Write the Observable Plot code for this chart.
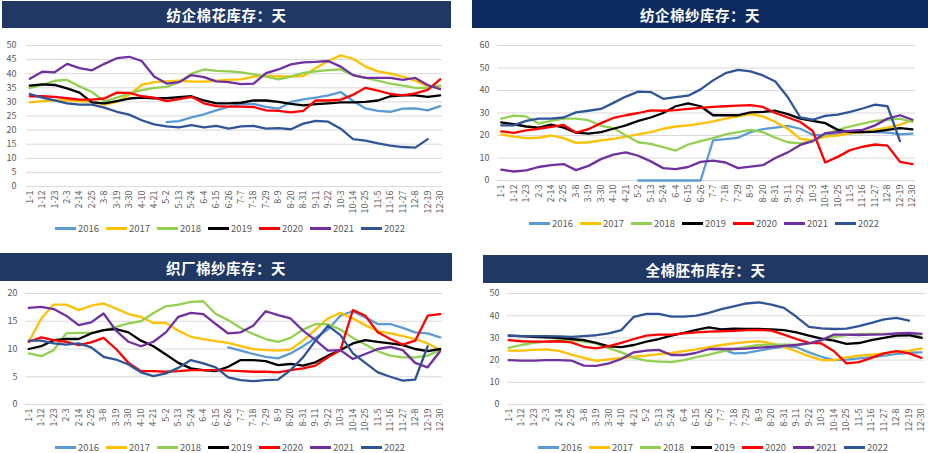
<!DOCTYPE html>
<html><head><meta charset="utf-8">
<script src="https://cdn.jsdelivr.net/npm/d3@7"></script>
<script src="https://cdn.jsdelivr.net/npm/@observablehq/plot@0.6"></script>
<style>
body{margin:0;width:928px;height:453px;position:relative;background:#fff;overflow:hidden;font-family:"Noto Sans CJK SC","Noto Sans",sans-serif}
.bar{position:absolute;background:#1f3864;color:#fff;font-weight:bold;font-size:14.5px;display:flex;align-items:center;justify-content:center;letter-spacing:0.5px}
.chart{position:absolute}
.legend{position:absolute;display:flex;align-items:center;font-size:9.5px;color:#595959;height:12px}
.legend .it{display:flex;align-items:center;width:51px}
.legend .sw{display:inline-block;width:21px;height:3px;margin-right:2px}
</style>
</head><body>
<div id="root"></div>
<script>
const n = null;
const tickLabels = ["1-1","1-12","1-23","2-3","2-14","2-25","3-8","3-19","3-30","4-10","4-21","5-2","5-13","5-24","6-4","6-15","6-26","7-7","7-18","7-29","8-9","8-20","8-31","9-11","9-22","10-3","10-14","10-25","11-5","11-16","11-27","12-8","12-19","12-30"];
const years = ["2016","2017","2018","2019","2020","2021","2022"];

// 纺企棉花库存
const cotton2016 = [n,n,n,n,n,n,n,n,n,n,n,22.8,23.2,24.5,25.6,27,28.3,29.2,29.3,28.2,27.6,30,30.9,31.5,32.3,33.5,30.3,27.7,26.8,26.5,27.6,27.7,27,28.5];
const cotton2017 = [29.8,30.3,30.5,30.5,30.3,30,29,30,32.5,36,37,37.3,37.5,37.2,37.2,37.5,37.8,38,39,39.3,39,39,39.2,42,44.5,46.5,45.3,42.5,40.8,40,39,37.5,35.5,35.5];
const cotton2018 = [35,36,37.5,37.8,35.5,33.5,30.2,31.5,33,34.2,35,35.3,37,40,41.5,41,40.8,40.5,39.8,39,38,39,40.3,40.8,41.3,41.5,39.5,38.5,37.5,36.5,35.8,35,35,35.8];
const cotton2019 = [35.8,36.2,36,34.8,33.3,29.8,29.5,30.3,31.2,31.5,31.3,31.3,31.7,32,30.5,29.5,29.5,29.7,30.5,30.5,30,29.3,28.8,29.2,29.5,29.8,29.8,30,30.5,32,32.3,32.3,31.8,32.3];
const cotton2020 = [32,32,31.8,31.3,30.8,30.8,31.2,33.3,33.2,32,31.5,30.3,31,31.8,29.5,28.5,28.3,28.3,28.2,27,26.8,26.3,26.8,30.5,30.5,30.8,32.5,35,34,32.8,32.3,33,34.3,38];
const cotton2021 = [38.2,40.7,40.5,43.5,42,41.2,43.5,45.5,46,44.5,39,36.5,37,39.5,38.8,37.3,37,36.3,36.5,40.2,41.5,43.3,44,44.2,44.5,42.5,39.5,38.5,38.5,38.5,37.8,38.5,36,34.5];
const cotton2022 = [32.8,31.5,30.5,29.5,29,29,28,26.5,25.5,23.5,22,21.3,21,21.8,21,21.5,20.5,21.3,21.5,20.5,20.7,20.3,22.3,23.3,23,20.5,16.8,16.3,15.3,14.5,14,13.8,16.8,n];

// 纺企棉纱库存
const yarn2016 = [n,n,n,n,n,n,n,n,n,n,n,0,0,0,0,0,0,17.8,18.4,19,21.5,22.8,23.5,24.3,23,20.3,20,20.5,21,21.5,21.5,21.3,20.5,20.8];
const yarn2017 = [20.5,19.5,18.8,19,20,18.8,16.7,17,17.8,18.5,19.5,20.5,21.5,23,24,24.5,25.3,26.3,27.5,28.5,29.5,28.5,26,23,18.5,17.8,19.5,20,21,21.5,22.5,23.5,24.7,27];
const yarn2018 = [27.5,28.8,28.5,25.3,26.5,27.5,27.5,26.8,24.3,23.3,20,17,16.3,14.8,13.3,16,17.5,18.8,20.5,21.5,22.5,21.5,19,17,16.5,17.5,20.5,22.5,24,25.3,26.5,27,27.5,26];
const yarn2019 = [25.8,25,24,23.5,24.8,23.5,21.3,20.8,21.5,23,24.5,26.5,28,30,33,34.3,33,29,29,29,30.3,30.5,31,29.5,27.5,26.5,25.5,22.5,21.5,21.5,21.7,22.5,23.3,22.7];
const yarn2020 = [21.8,21.2,22.3,23,23.8,24.7,21.3,22.8,25.5,27.8,29,30,31.2,31,31.3,31.8,32.3,32.7,33,33.3,33.5,32.7,30,28,26,22,8,10.5,13.5,15,16,15.5,8.3,7.3];
const yarn2021 = [4.8,4,4.5,6,6.8,7.3,4.6,6.5,9.5,11.5,12.5,11,8.5,5.5,5.1,6,8.3,8.8,8,5.5,6.2,6.8,10,12.5,15.8,17.5,21,21.5,22,22.5,24.5,27.5,29,27];
const yarn2022 = [24.5,24.5,26.5,27.5,27.5,28,30.3,31,31.8,34.5,37.3,39.5,39.3,36.3,37.1,37.7,40.5,44.5,47.7,49.2,48.5,46.7,44,37,28,27,28.7,29.3,30.5,32,33.7,33,17.5,n];

// 织厂棉纱库存
const weave2016 = [n,n,n,n,n,n,n,n,n,n,n,n,n,n,n,n,10.3,9.7,9.1,8.6,8.3,9.2,10.5,12,13.5,16,16.8,15.7,14.5,14.5,13.8,13,12.8,12.1];
const weave2017 = [11.3,15.5,18,18,17,17.8,18.2,17.3,16.3,15.8,14.7,14.7,13.3,12.2,11.8,11.4,11.1,10.5,10,9.8,9.7,9.9,11.5,13.5,15.5,16.5,15.5,14.3,13.2,12.8,12.3,11.8,11,9.8];
const weave2018 = [9.2,8.7,9.8,12.8,12.9,12.9,13.3,14,14.6,15,16.5,17.7,18,18.5,18.6,16.3,15.2,13.8,12.7,11.8,11.3,12,13.5,14.5,14.5,13.5,12,10.8,9.6,8.8,8.5,8.5,8.8,9.8];
const weave2019 = [10,10.5,11.6,11.8,11.8,12.8,13.4,13.6,13,11.5,10.5,9,7.5,6.5,6.2,6,6.8,8,8,7.8,7.1,7.3,7,7.6,8.8,9.8,11,11.6,11.3,11,10.7,10,9.6,10];
const weave2020 = [11.3,12.1,11.6,11.3,10.7,11.2,12,10,7.5,6,6,5.9,6,6.2,6.2,6.2,6.1,6,5.9,5.9,5.8,6.2,6.5,7,8.5,9.8,17,16,13,11.8,10.8,11.5,16,16.3];
const weave2021 = [17.4,17.6,17.2,16,14.3,14.8,16.4,13.3,11.3,10.5,11.3,13,15.8,16.5,16.3,14.5,12.8,13,14.2,16.8,16.1,15.5,13.3,11.6,9.7,9.8,8.2,9.1,10,10.4,9.8,7.5,6.7,9.6];
const weave2022 = [11.5,11.5,11,10.8,11,10.3,8.6,8.1,7.2,5.8,5.1,5.6,6.6,8,7.4,6.7,4.9,4.4,4.2,4.4,4.5,6.2,8.5,11.5,14.2,12.5,9.2,7.5,5.8,5,4.3,4.5,10.5,n];

// 全棉胚布库存
const fabric2016 = [n,n,n,n,n,n,n,n,n,n,n,n,n,n,n,n,25,25,23,23.2,24.3,25.3,26,25.8,23.5,21.5,20,20.2,20.8,21.3,22,22.8,23.3,23.5];
const fabric2017 = [24.3,24.3,24.6,24.8,24.2,22.5,21,19.7,20.3,21,21.5,22,22.7,23.2,24,24.8,25.8,26.8,27.5,28.1,28.5,27.5,25.9,24,21.8,20,20,21.2,22,22.4,23,23.7,24.3,25.2];
const fabric2018 = [25.5,26.8,27.8,28.3,29,29,28.3,27.5,25.4,23.5,21,19.8,19.3,19.1,20,21.3,22.5,23.8,25,26,26.8,27,27,27,27.5,29,30.5,31.3,31.7,31.8,31.8,31.7,31.8,30.5];
const fabric2019 = [31,30.8,30.5,30.3,30,29.5,29,27.8,26.2,25.8,26.8,28.3,29.5,31,32.3,33.6,34.7,33.8,34.2,34,34,33.8,33.5,32.5,31,29.7,28.8,27.3,27.7,29,30,31,31.2,30];
const fabric2020 = [29,28.5,28.3,28.3,28.5,28,26,25.3,26.3,27.8,29.5,31,31.5,31.5,32,32.5,32.8,33,33.2,33.5,33.6,33.3,31.5,29.5,27.8,27.5,24,18.5,19.1,21,23,24,23,21];
const fabric2021 = [20,19.8,19.8,20,20,19.8,17.5,17.4,18.5,20.5,23.5,24.3,24.6,22.3,22.3,23.3,25,25,25,25.2,25.6,26,26.4,26.8,27.5,29,31.5,31.5,31.3,31.5,31.6,32,32.2,31.8];
const fabric2022 = [31,30.8,30.8,30.8,30.7,30.5,30.8,31.2,32,33.5,39.5,40.8,40.8,39.6,39.6,40,41.3,43,44.2,45.5,46,45,43.5,39.5,35,34.3,34,34.2,35.3,36.8,38.3,39,37.8,n];

const palette = ["#5b9bd5","#ffc000","#92d050","#000000","#ff0000","#7030a0","#2f5597"];
const tickDays = tickLabels.map((_, i) => i * 11);

function rowsOf(seriesList) {
  const rows = [];
  seriesList.forEach((vals, k) => {
    vals.forEach((v, i) => { if (v !== null) rows.push({day: tickDays[i], value: v, year: years[k]}); });
  });
  return rows;
}

function addBox(cls, css, html) {
  const d = document.createElement("div");
  d.className = cls;
  Object.assign(d.style, css);
  if (html) d.innerHTML = html;
  document.body.appendChild(d);
  return d;
}

function legend(left, top) {
  const html = years.map((y, k) => `<div class="it"><span class="sw" style="background:${palette[k]}"></span>${y}</div>`).join("");
  addBox("legend", {left: left + "px", top: top + "px"}, html);
}

function panel(cfg) {
  addBox("bar", {left: cfg.bar[0] + "px", top: cfg.bar[1] + "px", width: cfg.bar[2] + "px", height: cfg.bar[3] + "px", background: cfg.barColor || "#1f3864"}, cfg.title);
  const chart = Plot.plot({
    width: cfg.w, height: cfg.h,
    marginLeft: cfg.ml, marginRight: cfg.mr, marginTop: cfg.mt, marginBottom: cfg.mb,
    style: {fontFamily: '"Noto Sans CJK SC","Noto Sans",sans-serif', fontSize: "9px", color: "#595959", background: "transparent", overflow: "visible"},
    x: {domain: cfg.xd, ticks: tickDays, tickFormat: d => tickLabels[Math.round(d / 11)], tickRotate: -90, tickSize: 0, tickPadding: 4, label: null},
    y: {domain: [0, cfg.ymax], ticks: cfg.yticks, tickSize: 0, tickPadding: cfg.yp, label: null},
    color: {domain: years, range: palette},
    marks: [
      Plot.gridY(cfg.yticks, {stroke: "#d9d9d9", strokeOpacity: 1, strokeWidth: 1}),
      Plot.line(rowsOf(cfg.series), {x: "day", y: "value", z: "year", stroke: "year", strokeWidth: 2.3, strokeLinejoin: "round"})
    ]
  });
  const holder = addBox("chart", {left: cfg.left + "px", top: cfg.top + "px"});
  holder.appendChild(chart);
  legend(cfg.lx, cfg.ly);
}

panel({title: "纺企棉花库存：天", bar: [2, 1, 449, 27], left: 0, top: 30, w: 452, h: 192, ml: 26, mr: 10, mt: 15, mb: 36, xd: [-2.9, 365.1], ymax: 50, yticks: d3.range(0, 51, 5), yp: 10, lx: 55, ly: 222,
  series: [cotton2016, cotton2017, cotton2018, cotton2019, cotton2020, cotton2021, cotton2022]});
panel({title: "纺企棉纱库存：天", bar: [472, 0, 456, 28], barColor: "#0d2b5e", left: 464, top: 30, w: 464, h: 185, ml: 33, mr: 13, mt: 15, mb: 35, xd: [-3.3, 365.7], ymax: 60, yticks: d3.range(0, 61, 10), yp: 8, lx: 529, ly: 217,
  series: [yarn2016, yarn2017, yarn2018, yarn2019, yarn2020, yarn2021, yarn2022]});
panel({title: "织厂棉纱库存：天", bar: [0, 253, 452, 28], left: 0, top: 283, w: 452, h: 155, ml: 25, mr: 10, mt: 10, mb: 34, xd: [-2.9, 365.1], ymax: 20, yticks: d3.range(0, 21, 5), yp: 8, lx: 55, ly: 441,
  series: [weave2016, weave2017, weave2018, weave2019, weave2020, weave2021, weave2022]});
panel({title: "全棉胚布库存：天", bar: [483, 255, 445, 28], left: 464, top: 283, w: 464, h: 155, ml: 43, mr: 3, mt: 10, mb: 34, xd: [-1.1, 366.5], ymax: 50, yticks: d3.range(0, 51, 10), yp: 8, lx: 538, ly: 441,
  series: [fabric2016, fabric2017, fabric2018, fabric2019, fabric2020, fabric2021, fabric2022]});
</script>
</body></html>
